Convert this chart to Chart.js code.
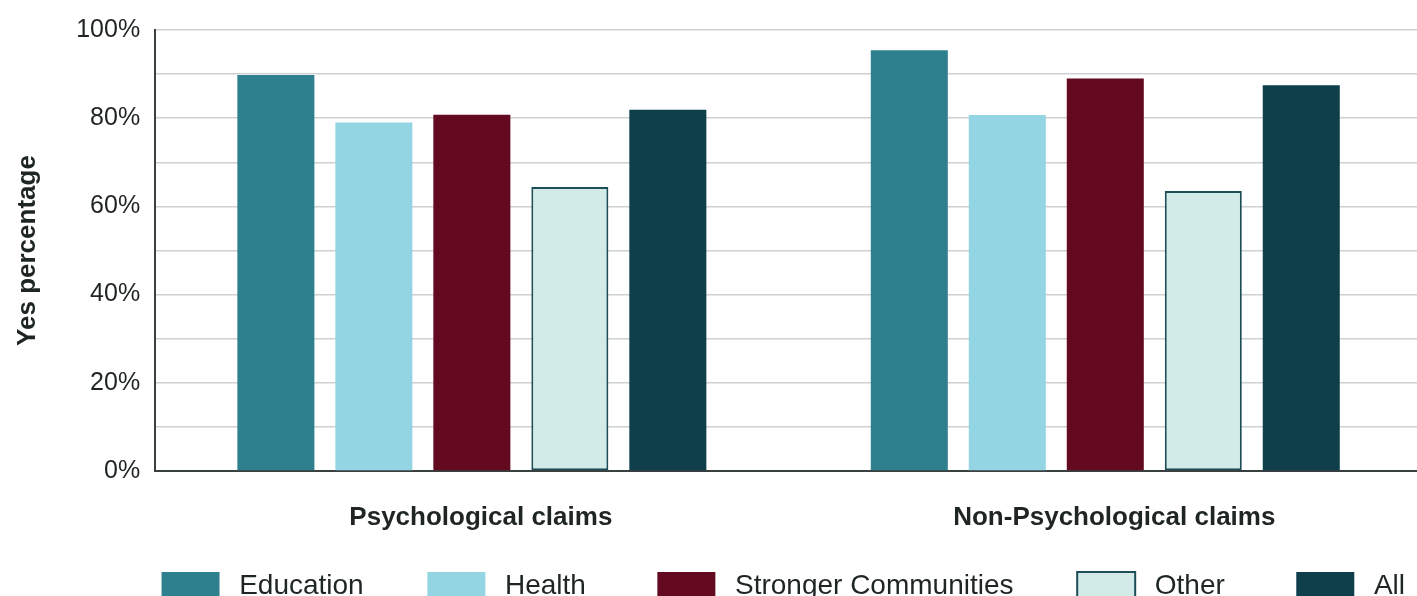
<!DOCTYPE html>
<html>
<head>
<meta charset="utf-8">
<script src="https://cdn.jsdelivr.net/npm/chart.js@4/dist/chart.umd.min.js"></script>
<style>
    html, body { margin: 0; padding: 0; background: #fff; overflow: hidden; }
    #wrap { width: 1422px; height: 610px; }
</style>
</head>
<body>
<div id="wrap"><canvas id="claimsChart" width="1422" height="610"></canvas></div>
<script>
// --- data ---
const CATEGORIES = ['Psychological claims', 'Non-Psychological claims'];

const EDUCATION = [89.8, 95.4];
const HEALTH = [79.0, 80.7];
const STRONGER_COMMUNITIES = [80.8, 89.0];
const OTHER = [64.4, 63.5];
const ALL = [81.9, 87.5];

const Y_TICK_STEP = 10;
const Y_LABEL_STEP = 20;

const COLORS = {
    education: '#2e808e',
    health: '#93d5e2',
    stronger: '#630920',
    other: '#d2ebe8',
    otherBorder: '#1d4e58',
    all: '#0f3f4a',
    grid: '#cdd1d1',
    axis: '#3a3f40',
    text: '#1f2424'
};

const FONT = "'Liberation Sans', Arial, sans-serif";
// spaces after each legend entry (the legend measures them, so they act as gaps)
const LEGEND_TRAILING = [6, 7, 6, 7, 0];

function barSet(label, data, color, border) {
    return {
        label: label,
        data: data,
        backgroundColor: color,
        borderColor: border || color,
        borderWidth: border ? 2 : 0,
        borderSkipped: false,
        categoryPercentage: 0.7735,
        barPercentage: 0.786
    };
}

const ctx = document.getElementById('claimsChart').getContext('2d');

new Chart(ctx, {
    type: 'bar',
    data: {
        labels: CATEGORIES,
        datasets: [
            barSet('Education', EDUCATION, COLORS.education),
            barSet('Health', HEALTH, COLORS.health),
            barSet('Stronger Communities', STRONGER_COMMUNITIES, COLORS.stronger),
            barSet('Other', OTHER, COLORS.other, COLORS.otherBorder),
            barSet('All', ALL, COLORS.all)
        ]
    },
    options: {
        responsive: false,
        animation: false,
        devicePixelRatio: 1,
        layout: { padding: { top: 28, left: 12, right: 0, bottom: 0 } },
        scales: {
            x: {
                grid: { display: false, drawTicks: false },
                border: { display: true, color: COLORS.axis, width: 2 },
                ticks: {
                    padding: 31,
                    labelOffset: 9,
                    color: COLORS.text,
                    font: { family: FONT, size: 26, weight: 'bold' }
                },
                // leave space between the category labels and the legend
                afterFit: (scale) => { scale.height = 84; }
            },
            y: {
                min: 0,
                max: 100,
                grid: { color: COLORS.grid, lineWidth: 1.5, drawTicks: false },
                border: { display: true, color: COLORS.axis, width: 2 },
                ticks: {
                    stepSize: Y_TICK_STEP,
                    padding: 15,
                    color: COLORS.text,
                    font: { family: FONT, size: 25 },
                    callback: (v) => (v % Y_LABEL_STEP === 0 ? v + '%' : '')
                },
                title: {
                    display: true,
                    text: 'Yes percentage',
                    color: COLORS.text,
                    font: { family: FONT, size: 26, weight: 'bold' },
                    padding: { top: 0, bottom: 18 }
                }
            }
        },
        plugins: {
            legend: {
                position: 'bottom',
                align: 'end',
                labels: {
                    boxWidth: 58,
                    boxHeight: 28,
                    padding: 17,
                    color: COLORS.text,
                    font: { family: FONT, size: 28 },
                    generateLabels: (chart) => {
                        const items = Chart.defaults.plugins.legend.labels.generateLabels(chart);
                        items.forEach((item, i) => {
                            item.text = '\u2009' + item.text + ' '.repeat(LEGEND_TRAILING[i] || 0);
                        });
                        return items;
                    }
                }
            },
            tooltip: { enabled: false }
        }
    }
});
</script>
</body>
</html>
